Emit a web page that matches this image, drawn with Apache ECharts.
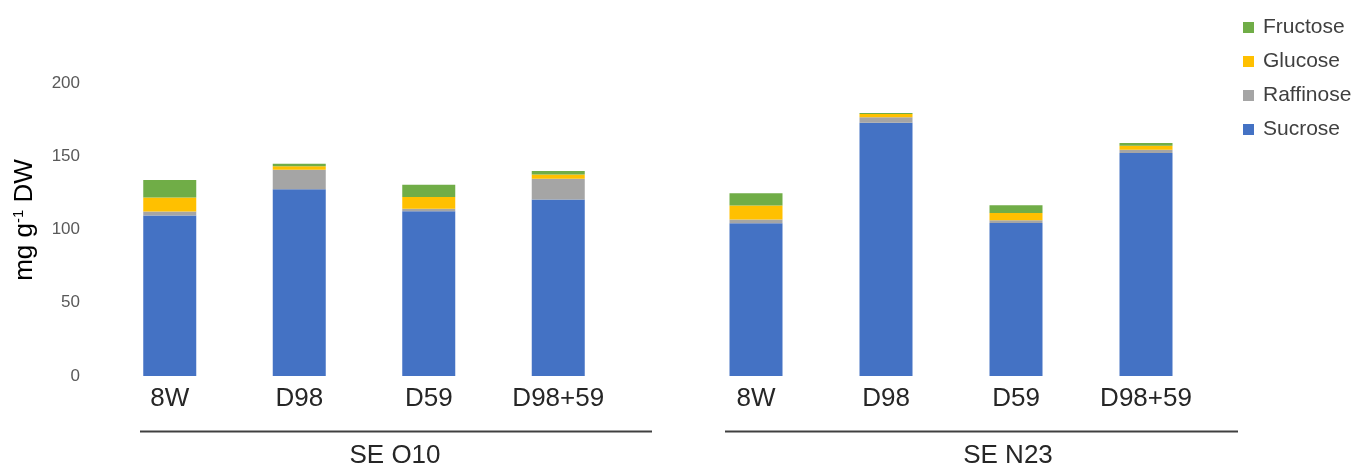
<!DOCTYPE html>
<html>
<head>
<meta charset="utf-8">
<script src="https://cdn.jsdelivr.net/npm/echarts@6/dist/echarts.min.js"></script>
<style>
html,body{margin:0;padding:0;background:#fff;}
#chart{width:1357px;height:463px;}
</style>
</head>
<body>
<div id="chart"></div>
<script>
// ---- data ----
var categories = ['8W', 'D98', 'D59', 'D98+59'];
var groups = ['SE Q10', 'SE N23'];
var sugars = ['Sucrose', 'Raffinose', 'Glucose', 'Fructose'];
var legendOrder = ['Fructose', 'Glucose', 'Raffinose', 'Sucrose'];
var yTicks = [0, 50, 100, 150, 200];

var sucroseQ10   = [109.5, 127.5, 112.5, 120.5];
var raffinoseQ10 = [2.8, 13.3, 1.7, 14.1];
var glucoseQ10   = [9.5, 2.4, 8.0, 2.9];
var fructoseQ10  = [12.0, 1.7, 8.4, 2.5];

var sucroseN23   = [104.3, 172.8, 104.5, 152.2];
var raffinoseN23 = [2.5, 3.8, 1.8, 2.3];
var glucoseN23   = [9.5, 2.3, 5.0, 2.7];
var fructoseN23  = [8.4, 0.7, 5.2, 1.8];

var colors = {Sucrose: '#4472C4', Raffinose: '#A5A5A5', Glucose: '#FFC000', Fructose: '#70AD47'};

var q10 = {Sucrose: sucroseQ10, Raffinose: raffinoseQ10, Glucose: glucoseQ10, Fructose: fructoseQ10};
var n23 = {Sucrose: sucroseN23, Raffinose: raffinoseN23, Glucose: glucoseN23, Fructose: fructoseN23};

var chart = echarts.init(document.getElementById('chart'), null, {renderer: 'canvas'});

var series = [];
[q10, n23].forEach(function (grp, gi) {
  sugars.forEach(function (s) {
    series.push({
      name: s,
      type: 'bar',
      stack: 'g' + gi,
      xAxisIndex: gi,
      yAxisIndex: gi,
      barWidth: 53,
      itemStyle: {color: colors[s]},
      emphasis: {disabled: true},
      data: grp[s]
    });
  });
});

var xAxisCommon = {
  type: 'category',
  data: categories,
  axisLine: {show: false},
  axisTick: {show: false},
  axisLabel: {color: '#262626', fontSize: 26, fontFamily: 'Liberation Sans, Arial, sans-serif', margin: 10}
};

var yMin = yTicks[0], yMax = yTicks[yTicks.length - 1], yStep = yTicks[1] - yTicks[0];

chart.setOption({
  animation: false,
  backgroundColor: '#ffffff',
  legend: {
    data: legendOrder,
    orient: 'vertical',
    left: 1238,
    top: 12,
    itemWidth: 11,
    itemHeight: 11,
    itemGap: 13,
    icon: 'rect',
    textStyle: {color: '#404040', fontSize: 21, fontFamily: 'Liberation Sans, Arial, sans-serif', padding: [0, 0, 0, 4]}
  },
  grid: [
    {left: 105, width: 518, top: 83, bottom: 87},
    {left: 691, width: 520, top: 83, bottom: 87}
  ],
  xAxis: [
    Object.assign({gridIndex: 0}, xAxisCommon),
    Object.assign({gridIndex: 1}, xAxisCommon)
  ],
  yAxis: [
    {
      gridIndex: 0, type: 'value', min: yMin, max: yMax, interval: yStep,
      axisLine: {show: false}, axisTick: {show: false}, splitLine: {show: false},
      axisLabel: {color: '#595959', fontSize: 17, fontFamily: 'Liberation Sans, Arial, sans-serif', margin: 25}
    },
    {
      gridIndex: 1, type: 'value', min: yMin, max: yMax, interval: yStep,
      axisLine: {show: false}, axisTick: {show: false}, splitLine: {show: false},
      axisLabel: {show: false}
    }
  ],
  graphic: [
    {
      type: 'text', x: 25, y: 220, rotation: Math.PI / 2,
      style: {
        text: '{a|mg g}{s|-1}{a| DW}',
        align: 'center', verticalAlign: 'middle',
        fill: '#000',
        rich: {
          a: {fontSize: 26, fontFamily: 'Liberation Sans, Arial, sans-serif', fill: '#000', lineHeight: 28},
          s: {fontSize: 15, fontFamily: 'Liberation Sans, Arial, sans-serif', fill: '#000', verticalAlign: 'top', lineHeight: 28, padding: [0, 0, 13, 0]}
        }
      }
    },
    {type: 'line', shape: {x1: 140, y1: 431.5, x2: 652, y2: 431.5}, style: {stroke: '#404040', lineWidth: 2}},
    {type: 'line', shape: {x1: 725, y1: 431.5, x2: 1238, y2: 431.5}, style: {stroke: '#404040', lineWidth: 2}},
    {type: 'text', x: 395, y: 456, style: {text: groups[0], align: 'center', verticalAlign: 'middle', fontSize: 26, fontFamily: 'Liberation Sans, Arial, sans-serif', fill: '#262626'}},
    {type: 'text', x: 1008, y: 456, style: {text: groups[1], align: 'center', verticalAlign: 'middle', fontSize: 26, fontFamily: 'Liberation Sans, Arial, sans-serif', fill: '#262626'}}
  ],
  series: series
});
</script>
</body>
</html>
